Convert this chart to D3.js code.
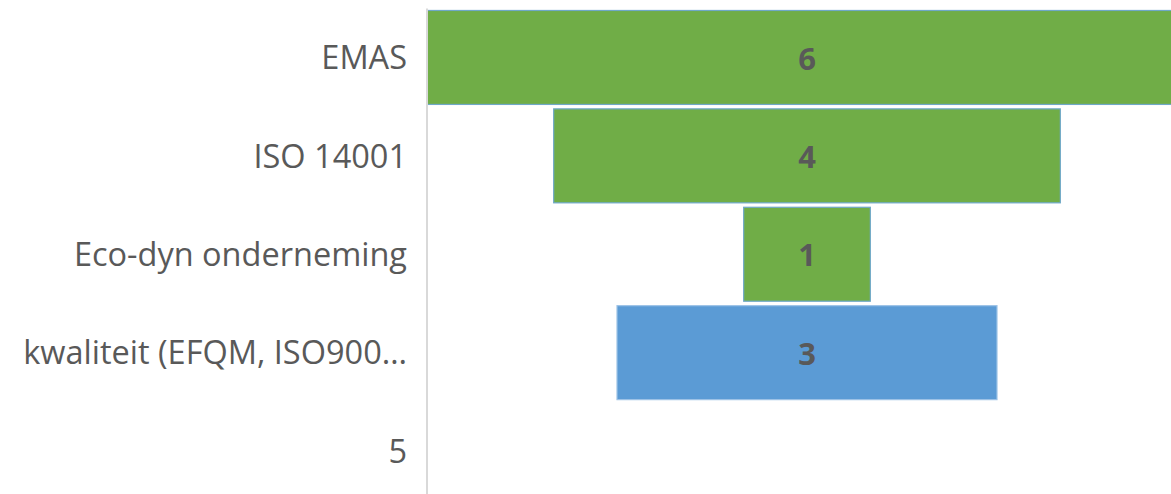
<!DOCTYPE html>
<html><head><meta charset="utf-8">
<script src="https://cdn.jsdelivr.net/npm/d3@7"></script>
<style>body{margin:0;background:#fff;overflow:hidden}</style>
</head><body>
<svg id="c" width="1171" height="494"></svg>
<script>
const categories = ["EMAS", "ISO 14001", "Eco-dyn onderneming", "kwaliteit (EFQM, ISO900…", "5"];
const values = [6, 4, 1, 3, null];
const colors = ["#70AD47", "#70AD47", "#70AD47", "#5B9BD5", "#5B9BD5"];

(function(){
const svg = d3.select("#c");
const pL = 427, pR = 1187, pT = 8.5, pB = 500;
const y = d3.scaleBand().domain(categories).range([pT, pB]).paddingInner(0.045).paddingOuter(0.02);
const x = d3.scaleLinear().domain([-3, 3]).range([pL, pR]);

svg.append("clipPath").attr("id","clip").append("rect")
  .attr("x", pL + 1).attr("y", 0).attr("width", 1171 - pL).attr("height", 494);

const g = svg.append("g").attr("clip-path","url(#clip)");
const data = categories.map((c,i)=>({c, v: values[i], col: colors[i]})).filter(d=>d.v!=null);

g.selectAll("rect.bar").data(data).join("rect")
  .attr("class","bar")
  .attr("x", d=>x(-d.v/2)).attr("width", d=>x(d.v/2)-x(-d.v/2))
  .attr("y", d=>y(d.c)).attr("height", y.bandwidth())
  .attr("fill", d=>d.col)
  .attr("stroke", d=> d.col === "#70AD47" ? "#6FA8C8" : "#9DC3E6")
  .attr("stroke-width", 1.2);

svg.selectAll("text.val").data(data).join("text")
  .attr("class","val")
  .attr("x", x(0)).attr("y", d=>y(d.c)+y.bandwidth()/2 + 1)
  .attr("dy","0.36em")
  .attr("text-anchor","middle")
  .attr("font-family","'Open Sans', 'Noto Sans', sans-serif").attr("font-weight","bold")
  .attr("font-size", 31).attr("fill","#595959")
  .text(d=>d.v);

const ax = svg.append("g").attr("transform",`translate(${pL},0)`)
  .call(d3.axisLeft(y).tickSize(0).tickPadding(20));
ax.select(".domain").attr("stroke","#D9D9D9").attr("stroke-width",2).attr("d", `M0,${pT}V494`);
ax.selectAll("text").attr("font-family","'Open Sans', 'Noto Sans', sans-serif")
  .attr("font-size", 32.5).attr("fill","#595959").attr("dy","0.36em");
})();
</script>
</body></html>
